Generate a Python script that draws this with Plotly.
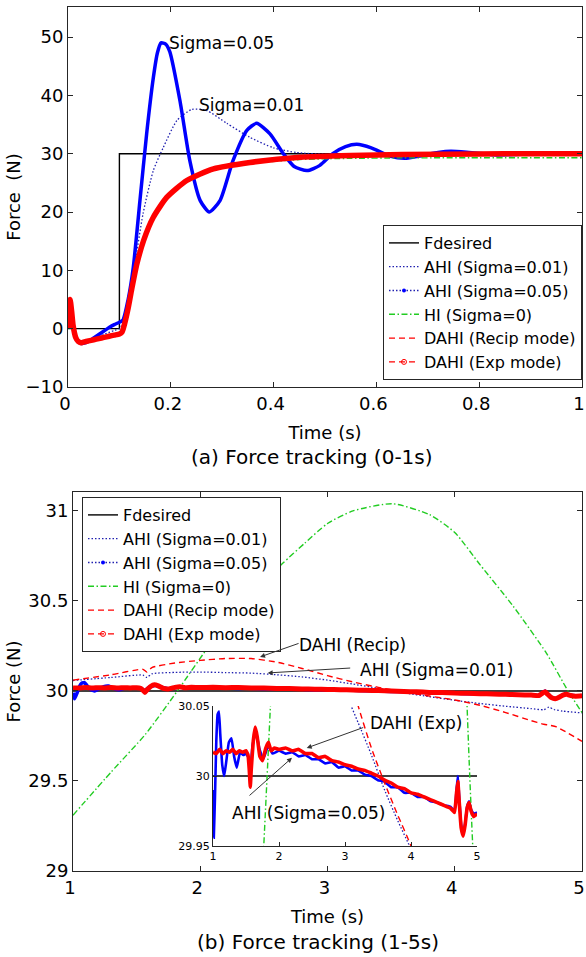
import plotly.graph_objects as go

W, H = 586, 957
FONT = "DejaVu Sans"

# ---------------- (a) 0-1 s ----------------
T_DES_A = [0, 0.1, 0.1, 1.0]
F_DES_A = [0, 0, 30, 30]

T_AHI01_A = [0, 0.002, 0.004, 0.007, 0.01, 0.015, 0.02, 0.03, 0.05, 0.07, 0.09, 0.1, 0.111, 0.127,
             0.146, 0.166, 0.185, 0.212, 0.241, 0.27, 0.309, 0.354, 0.4, 0.445, 0.5, 0.6, 0.8, 1.0]
F_AHI01_A = [0, 4.5, 5.0, 3.0, 0.5, -1.5, -2.2, -2.4, -1.8, -1.0, -0.3, 0.0, 1.9, 9.4,
             19.7, 27.1, 31.0, 35.7, 37.6, 37.4, 35.2, 32.8, 31.0, 30.2, 29.9, 29.95, 30.0, 30.0]

T_AHI05_A = [0, 0.002, 0.004, 0.007, 0.01, 0.015, 0.02, 0.025, 0.03, 0.04, 0.05, 0.06, 0.07, 0.08,
             0.09, 0.1, 0.107, 0.117, 0.127, 0.14, 0.153, 0.166, 0.174, 0.181, 0.19, 0.198, 0.218,
             0.237, 0.257, 0.275, 0.296, 0.321, 0.348, 0.367, 0.393, 0.419, 0.44, 0.465, 0.49,
             0.515, 0.54, 0.562, 0.59, 0.626, 0.655, 0.69, 0.72, 0.745, 0.78, 0.83, 0.88, 0.94, 1.0]
F_AHI05_A = [0, 4.5, 5.0, 3.0, 0.5, -1.5, -2.2, -2.5, -2.5, -2.2, -1.6, -1.0, -0.4, 0.2,
             0.7, 1.1, 1.5, 5.0, 10.5, 22.0, 33.4, 43.0, 47.3, 49.0, 48.8, 47.5, 39.0,
             28.8, 22.0, 20.0, 22.0, 28.8, 34.0, 35.2, 33.4, 30.0, 27.8, 27.1, 28.0,
             30.0, 31.2, 31.6, 31.0, 29.6, 29.2, 29.7, 30.2, 30.4, 30.2, 29.8, 29.9, 30.0, 30.0]

T_HI_A = [0, 0.002, 0.004, 0.007, 0.01, 0.015, 0.02, 0.025, 0.03, 0.04, 0.05, 0.06, 0.07, 0.08,
          0.09, 0.1, 0.105, 0.11, 0.117, 0.124, 0.134, 0.147, 0.166, 0.192, 0.231, 0.283, 0.354,
          0.451, 0.55, 0.65, 0.8, 1.0]
F_HI_A = [0, 4.5, 5.0, 3.0, 0.5, -1.5, -2.2, -2.4, -2.3, -2.1, -1.9, -1.7, -1.5, -1.3,
          -1.1, -0.9, -0.6, 0.8, 3.5, 6.8, 11.1, 15.1, 19.1, 22.4, 25.2, 27.2, 28.3,
          29.0, 29.2, 29.28, 29.3, 29.31]

T_RECIP_A = [0, 0.002, 0.004, 0.007, 0.01, 0.015, 0.02, 0.025, 0.03, 0.04, 0.05, 0.06, 0.07, 0.08,
             0.09, 0.1, 0.105, 0.11, 0.117, 0.124, 0.134, 0.147, 0.166, 0.192, 0.231, 0.283, 0.354,
             0.451, 0.55, 0.65, 0.8, 0.9, 1.0]
F_RECIP_A = [0, 4.5, 5.0, 3.0, 0.5, -1.5, -2.2, -2.4, -2.3, -2.1, -1.9, -1.7, -1.5, -1.3,
             -1.1, -0.9, -0.6, 0.8, 3.5, 6.8, 11.1, 15.1, 19.1, 22.5, 25.4, 27.4, 28.5,
             29.4, 29.7, 29.85, 29.95, 30.0, 30.0]

T_EXP_A = [0, 0.002, 0.004, 0.007, 0.01, 0.015, 0.02, 0.025, 0.03, 0.04, 0.05, 0.06, 0.07, 0.08,
           0.09, 0.1, 0.105, 0.11, 0.117, 0.124, 0.134, 0.147, 0.166, 0.192, 0.231, 0.283, 0.354,
           0.451, 0.55, 0.65, 0.8, 0.9, 1.0]
F_EXP_A = [0, 4.5, 5.0, 3.0, 0.5, -1.5, -2.2, -2.4, -2.3, -2.1, -1.9, -1.7, -1.5, -1.3,
           -1.1, -0.9, -0.6, 0.8, 3.5, 6.8, 11.1, 15.1, 19.1, 22.5, 25.4, 27.4, 28.5,
           29.4, 29.7, 29.85, 29.95, 30.0, 30.0]

# ---------------- (b) 1-5 s ----------------
T_DES_B = [1.0, 5.0]
F_DES_B = [30.0, 30.0]

T_AHI01_B = [1.0, 1.3, 1.55, 1.58, 1.62, 1.8, 2.0, 2.2, 2.4, 2.6, 2.8, 3.0, 3.2, 3.4, 3.6, 3.8,
             4.0, 4.2, 4.4, 4.6, 4.7, 4.74, 4.78, 4.85, 5.0]
F_AHI01_B = [30.058, 30.075, 30.088, 30.075, 30.095, 30.103, 30.105, 30.102, 30.099, 30.09,
             30.078, 30.06, 30.038, 30.015, 29.99, 29.968, 29.948, 29.93, 29.915, 29.902,
             29.896, 29.91, 29.897, 29.888, 29.878]

T_AHI05_B = [1.0, 1.005, 1.012, 1.03, 1.05, 1.07, 1.09, 1.11, 1.14, 1.17, 1.2, 1.24, 1.28, 1.32,
             1.36, 1.41, 1.46, 1.5, 1.54, 1.56, 1.6, 1.65, 1.7, 1.76, 1.84, 1.9, 2.0, 2.1, 2.2,
             2.3, 2.4, 2.5, 2.6, 2.7, 2.8, 2.9, 3.0, 3.1, 3.2, 3.3, 3.4, 3.5, 3.6, 3.7, 3.8, 3.9,
             4.0, 4.1, 4.2, 4.3, 4.4, 4.5, 4.6, 4.66, 4.69, 4.71, 4.73, 4.76, 4.79, 4.82, 4.85,
             4.88, 4.91, 4.95, 5.0]
F_AHI05_B = [29.990, 29.975, 29.956, 29.985, 30.025, 30.044, 30.046, 30.030, 30.008, 30.000,
             30.010, 30.024, 30.027, 30.014, 30.006, 30.017, 30.015, 30.016, 30.013, 30.000,
             30.022, 30.032, 30.020, 30.012, 30.022, 30.016, 30.018, 30.016, 30.017, 30.014,
             30.015, 30.012, 30.012, 30.009, 30.010, 30.006, 30.007, 30.004, 30.004, 30.001,
             30.000, 29.997, 29.996, 29.992, 29.992, 29.988, 29.988, 29.985, 29.985, 29.982,
             29.981, 29.979, 29.978, 29.975, 29.990, 30.000, 29.985, 29.965, 29.958, 29.966,
             29.978, 29.982, 29.976, 29.973, 29.974]

T_HI_B = [1.0, 1.3, 1.57, 1.82, 2.1, 2.4, 2.65, 2.82, 3.0, 3.2, 3.51, 3.8, 4.0, 4.2, 4.46,
          4.72, 4.89, 5.0]
F_HI_B = [29.31, 29.55, 29.76, 30.0, 30.28, 30.53, 30.71, 30.82, 30.93, 31.0, 31.04, 30.98,
          30.88, 30.7, 30.47, 30.21, 30.0, 29.88]

T_RECIP_B = [1.0, 1.3, 1.55, 1.58, 1.62, 1.8, 2.0, 2.2, 2.4, 2.6, 2.8, 3.0, 3.2, 3.4, 3.6, 3.8,
             4.0, 4.2, 4.4, 4.6, 4.7, 4.74, 4.8, 5.0]
F_RECIP_B = [30.06, 30.09, 30.12, 30.105, 30.13, 30.155, 30.17, 30.18, 30.18, 30.16, 30.125,
             30.085, 30.05, 30.02, 29.995, 29.972, 29.95, 29.92, 29.88, 29.835, 29.815, 29.81,
             29.8, 29.72]

T_EXP_B = [1.0, 1.05, 1.1, 1.15, 1.2, 1.25, 1.3, 1.35, 1.4, 1.45, 1.5, 1.53, 1.55, 1.565, 1.58,
           1.61, 1.64, 1.67, 1.71, 1.75, 1.8, 1.84, 1.88, 1.93, 2.0, 2.1, 2.2, 2.3, 2.4, 2.5,
           2.6, 2.7, 2.8, 2.9, 3.0, 3.1, 3.2, 3.3, 3.4, 3.5, 3.6, 3.7, 3.8, 3.9, 4.0, 4.1, 4.2,
           4.3, 4.4, 4.5, 4.6, 4.66, 4.69, 4.71, 4.73, 4.76, 4.79, 4.82, 4.85, 4.88, 4.91,
           4.95, 5.0]
F_EXP_B = [30.017, 30.016, 30.019, 30.016, 30.018, 30.017, 30.019, 30.016, 30.018, 30.017,
           30.018, 30.015, 30.004, 29.992, 30.005, 30.025, 30.035, 30.028, 30.014, 30.011,
           30.020, 30.024, 30.018, 30.020, 30.019, 30.020, 30.018, 30.019, 30.016, 30.016,
           30.013, 30.014, 30.011, 30.010, 30.008, 30.007, 30.005, 30.004, 30.002, 30.000,
           29.997, 29.995, 29.992, 29.991, 29.988, 29.987, 29.985, 29.983, 29.981, 29.979,
           29.977, 29.974, 29.988, 29.996, 29.982, 29.963, 29.957, 29.965, 29.977, 29.981,
           29.975, 29.971, 29.973]

NAMES = ["Fdesired", "AHI (Sigma=0.01)", "AHI (Sigma=0.05)", "HI (Sigma=0)",
         "DAHI (Recip mode)", "DAHI (Exp mode)"]

X_TICKS_A = [0, 0.2, 0.4, 0.6, 0.8, 1]
Y_TICKS_A = [-10, 0, 10, 20, 30, 40, 50]
X_TICKS_B = [1, 2, 3, 4, 5]
Y_TICKS_B = [29, 29.5, 30, 30.5, 31]
Y_TICKS_INSET = [29.95, 30, 30.05]

BLACK = "#000000"
NAVY = "#2020b0"
BLUE = "#0000ff"
GREEN = "#22cc22"
RED = "#ff0000"

fig = go.Figure()


def line(t, f, xa, ya, color, width, dash="solid", shape="spline", smooth=0.6):
    kw = dict(shape=shape)
    if shape == "spline":
        kw["smoothing"] = smooth
    fig.add_trace(go.Scatter(x=t, y=f, xaxis=xa, yaxis=ya, mode="lines", showlegend=False,
                             hoverinfo="skip",
                             line=dict(color=color, width=width, dash=dash, **kw)))


DOT = "1.5px,2px"
DASHDOT = "6px,2.5px,1.5px,2.5px"
DASH = "6px,4px"

# panel (a)
line(T_DES_A, F_DES_A, "x", "y", BLACK, 1.4, shape="linear")
line(T_AHI01_A, F_AHI01_A, "x", "y", NAVY, 1.3, DOT)
line(T_AHI05_A, F_AHI05_A, "x", "y", BLUE, 3.5)
line(T_HI_A, F_HI_A, "x", "y", GREEN, 1.4, DASHDOT)
line(T_RECIP_A, F_RECIP_A, "x", "y", RED, 1.4, DASH)
line(T_EXP_A, F_EXP_A, "x", "y", RED, 5.5)

# panel (b) and inset
for xa, ya, wb, we in (("x2", "y2", 3.5, 5.0), ("x3", "y3", 2.6, 3.6)):
    line(T_DES_B, F_DES_B, xa, ya, BLACK, 1.4, shape="linear")
    line(T_AHI01_B, F_AHI01_B, xa, ya, NAVY, 1.3, DOT)
    line(T_AHI05_B, F_AHI05_B, xa, ya, BLUE, wb, smooth=0.3)
    line(T_HI_B, F_HI_B, xa, ya, GREEN, 1.4, DASHDOT)
    line(T_RECIP_B, F_RECIP_B, xa, ya, RED, 1.4, DASH)
    line(T_EXP_B, F_EXP_B, xa, ya, RED, we, smooth=0.3)

# legend entries (styles as in the original legends)
LEG_STYLES = [
    dict(mode="lines", line=dict(color=BLACK, width=1.4)),
    dict(mode="lines", line=dict(color=NAVY, width=1.3, dash=DOT)),
    dict(mode="lines+markers", line=dict(color=NAVY, width=1.3, dash=DOT),
         marker=dict(color=BLUE, size=4, symbol="circle")),
    dict(mode="lines", line=dict(color=GREEN, width=1.4, dash=DASHDOT)),
    dict(mode="lines", line=dict(color=RED, width=1.4, dash=DASH)),
    dict(mode="lines+markers", line=dict(color=RED, width=1.4, dash=DASH),
         marker=dict(color=RED, size=5, symbol="circle-open")),
]
for leg, xa, ya in (("legend", "x", "y"), ("legend2", "x2", "y2")):
    for name, st in zip(NAMES, LEG_STYLES):
        fig.add_trace(go.Scatter(x=[None], y=[None], xaxis=xa, yaxis=ya, name=name,
                                 legend=leg, showlegend=True, **st))

AX_COL = "#262626"
TICKF = dict(family=FONT, size=18, color=BLACK)
TITLEF = dict(family=FONT, size=18, color=BLACK)


def ax(domain, rng, ticks, anchor, title=None, standoff=6, mirror="ticks", tickfont=TICKF,
       ticklen=5, shift=0):
    d = dict(domain=domain, range=rng, tickvals=ticks, anchor=anchor, showgrid=False,
             zeroline=False, showline=True, linecolor=AX_COL, linewidth=1, ticks="inside",
             ticklen=ticklen, tickcolor=AX_COL, mirror=mirror, tickfont=tickfont,
             automargin=False, ticklabeloverflow="allow")
    if shift:
        d["ticklabelshift"] = shift
    if title:
        d["title"] = dict(text=title, font=TITLEF, standoff=standoff)
    return d


def px_x(p):
    return p / W


def px_y(p):
    return 1 - p / H


INSET_TICKF = dict(family=FONT, size=11, color=BLACK)

fig.update_layout(
    template="none",
    width=W, height=H, autosize=False,
    margin=dict(l=0, r=0, t=0, b=0, pad=0, autoexpand=False),
    paper_bgcolor="white", plot_bgcolor="white",
    font=dict(family=FONT, color=BLACK),
    xaxis=ax([px_x(68), px_x(582)], [0, 1], X_TICKS_A, "y", "Time (s)", 13, shift=-3),
    yaxis=ax([px_y(387), px_y(7)], [-10, 55.15], Y_TICKS_A, "x", "Force  (N)", 0),
    xaxis2=ax([px_x(73), px_x(582)], [1, 5], X_TICKS_B, "y2", "Time (s)", 13, shift=-3),
    yaxis2=ax([px_y(871), px_y(492)], [29, 31.105], Y_TICKS_B, "x2", "Force (N)", 3),
    xaxis3=ax([px_x(213), px_x(477)], [1, 5], X_TICKS_B, "y3", mirror=False,
              tickfont=INSET_TICKF, ticklen=4),
    yaxis3=ax([px_y(846), px_y(706)], [29.95, 30.05], Y_TICKS_INSET, "x3", mirror=False,
              tickfont=INSET_TICKF, ticklen=4),
    legend=dict(x=px_x(582), y=px_y(380), xanchor="right", yanchor="bottom",
                bgcolor="white", bordercolor=AX_COL, borderwidth=1,
                font=dict(family=FONT, size=16, color=BLACK), itemwidth=30),
    legend2=dict(x=px_x(82), y=px_y(497), xanchor="left", yanchor="top",
                 bgcolor="white", bordercolor=AX_COL, borderwidth=1,
                 font=dict(family=FONT, size=16, color=BLACK), itemwidth=30),
)

ANN_F = dict(family=FONT, size=17, color=BLACK)
annotations = []
# free text labels (pixel positions converted to paper coords)
for txt, x, y in (("Sigma=0.05", 167, 43), ("Sigma=0.01", 197, 105),
                  ("DAHI (Recip)", 297, 645), ("AHI (Sigma=0.01)", 358, 670),
                  ("DAHI (Exp)", 368, 723), ("AHI (Sigma=0.05)", 230, 813)):
    annotations.append(dict(text=txt, x=px_x(x), y=px_y(y), xref="paper", yref="paper",
                            xanchor="left", yanchor="middle", showarrow=False, font=ANN_F))
# captions
for txt, x, y in (("(a) Force tracking (0-1s)", 312, 457),
                  ("(b) Force tracking (1-5s)", 318, 942)):
    annotations.append(dict(text=txt, x=px_x(x), y=px_y(y), xref="paper", yref="paper",
                            xanchor="center", yanchor="middle", showarrow=False,
                            font=dict(family=FONT, size=20, color=BLACK)))
# arrows: tip in data coords, tail offset in px
for xr, yr, xt, yt, axp, ayp in (("x2", "y2", 2.47, 30.189, 40, -14),
                                 ("x2", "y2", 2.53, 30.100, 84, -5),
                                 ("x3", "y3", 2.42, 30.020, 58, -21),
                                 ("x3", "y3", 2.197, 30.013, -44, 39)):
    annotations.append(dict(text="", x=xt, y=yt, xref=xr, yref=yr, ax=axp, ay=ayp,
                            showarrow=True, arrowhead=2, arrowsize=1, arrowwidth=1,
                            arrowcolor="#333333", standoff=0, startstandoff=0))
fig.update_layout(annotations=annotations)

fig.write_html("out.html", config={"displayModeBar": False},
               post_script="document.body.style.margin='0px';document.body.style.padding='0px';"
                           "document.body.style.overflow='hidden';")
